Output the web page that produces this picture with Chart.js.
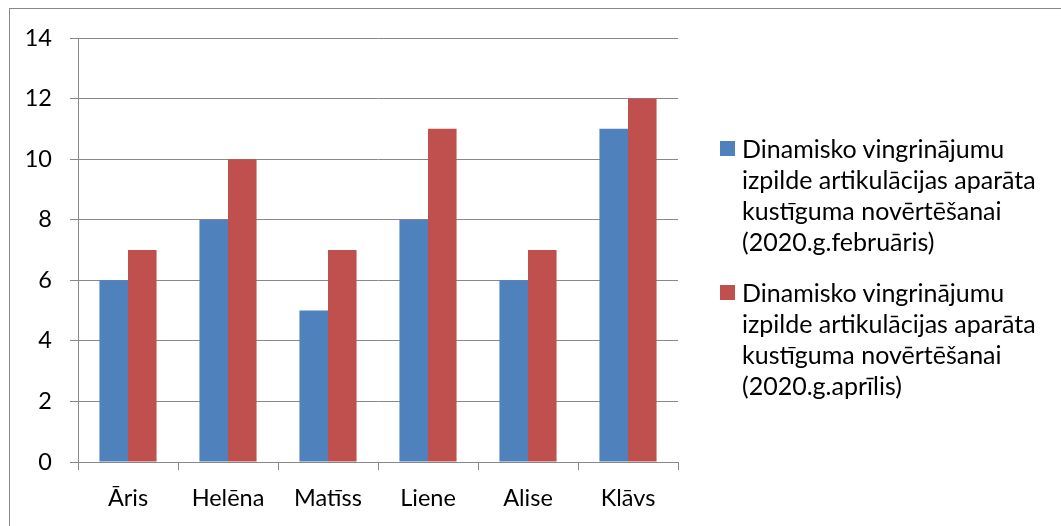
<!DOCTYPE html>
<html>
<head>
<meta charset="utf-8">
<script src="https://cdn.jsdelivr.net/npm/chart.js@4/dist/chart.umd.min.js"></script>
<style>
  html, body { margin: 0; padding: 0; background: #fff; }
  #wrap { position: relative; width: 1061px; height: 526px; overflow: hidden; }
  #frame { position: absolute; left: 9px; top: 8px; width: 1100px; height: 600px;
           border-left: 1px solid #888; border-top: 1px solid #888; }
  canvas { position: absolute; left: 0; top: 0; }
  #legend { position: absolute; left: 720px; top: 133px; font-family: Lato, sans-serif;
            font-size: 25px; line-height: 31px; color: #000; }
  .item { position: relative; padding-left: 22px; margin-bottom: 20px; white-space: nowrap; }
  .sw { position: absolute; left: 0; top: 8px; width: 15px; height: 15px; }
</style>
</head>
<body>
<div id="wrap">
  <div id="frame"></div>
  <canvas id="c" width="1061" height="526"></canvas>
  <div id="legend"></div>
</div>
<script>
const categories = ['Āris', 'Helēna', 'Matīss', 'Liene', 'Alise', 'Klāvs'];
const seriesFeb = [6, 8, 5, 8, 6, 11];
const seriesApr = [7, 10, 7, 11, 7, 12];
const seriesNameFeb = ['Dinamisko vingrinājumu', 'izpilde artikulācijas aparāta', 'kustīguma novērtēšanai', '(2020.g.februāris)'];
const seriesNameApr = ['Dinamisko vingrinājumu', 'izpilde artikulācijas aparāta', 'kustīguma novērtēšanai', '(2020.g.aprīlis)'];
const yTicks = [0, 2, 4, 6, 8, 10, 12, 14];

const seriesNames = [seriesNameFeb, seriesNameApr];
const font = { family: 'Lato, sans-serif', size: 23.5 };
const gridColor = '#888888';

const htmlLegend = {
  id: 'htmlLegend',
  afterUpdate(chart) {
    const box = document.getElementById('legend');
    box.innerHTML = '';
    chart.data.datasets.forEach((ds, i) => {
      const item = document.createElement('div');
      item.className = 'item';
      const sw = document.createElement('span');
      sw.className = 'sw';
      sw.style.background = ds.backgroundColor;
      item.appendChild(sw);
      seriesNames[i].forEach((line, j) => {
        if (j) item.appendChild(document.createElement('br'));
        item.appendChild(document.createTextNode(line));
      });
      box.appendChild(item);
    });
  }
};

new Chart(document.getElementById('c'), {
  type: 'bar',
  data: {
    labels: categories,
    datasets: [
      { label: seriesNameFeb.join(' '), data: seriesFeb, backgroundColor: '#4F81BD',
        categoryPercentage: 0.5714, barPercentage: 1.0 },
      { label: seriesNameApr.join(' '), data: seriesApr, backgroundColor: '#C0504D',
        categoryPercentage: 0.5714, barPercentage: 1.0 }
    ]
  },
  options: {
    responsive: false,
    animation: false,
    devicePixelRatio: 1,
    layout: { padding: { left: 0, top: 38, right: 383, bottom: 0 } },
    plugins: { legend: { display: false }, tooltip: { enabled: false } },
    scales: {
      x: {
        grid: { display: true, drawOnChartArea: false, drawTicks: true, tickLength: 8,
                color: gridColor, lineWidth: 1 },
        border: { display: true, color: gridColor, width: 1 },
        ticks: { font: font, color: '#000', padding: 14, maxRotation: 0 },
        afterFit(scale) { scale.height = 64; }
      },
      y: {
        min: 0, max: 14,
        afterBuildTicks(scale) { scale.ticks = yTicks.map(v => ({ value: v })); },
        grid: { color: gridColor, lineWidth: 1, tickLength: 8, drawTicks: true },
        border: { display: true, color: gridColor, width: 1 },
        ticks: { font: font, color: '#000', padding: 18 },
        afterFit(scale) { scale.width = 78; }
      }
    }
  },
  plugins: [htmlLegend]
});
</script>
</body>
</html>
